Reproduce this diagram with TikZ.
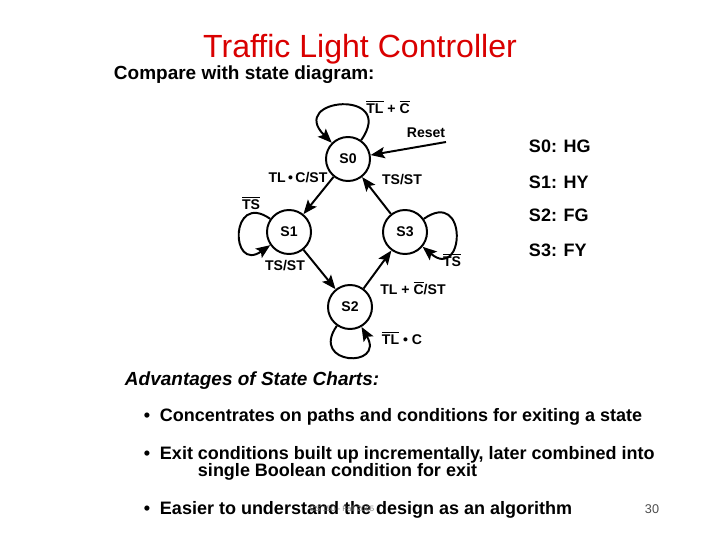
\documentclass[tikz,border=0pt]{standalone}
\usepackage{fontspec}
\setmainfont{Liberation Sans}
\usetikzlibrary{arrows.meta}
\newcommand{\ovl}[1]{$\overline{\mbox{#1}}$}

\begin{document}
\begin{tikzpicture}[x=0.025cm,y=0.025cm,->,>={Stealth[length=10pt,width=8pt,inset=2pt]},line width=1.4pt,
                    state node/.style={circle,draw,minimum size=1.1cm,inner sep=0pt,font=\bfseries\fontsize{10}{12}\selectfont},
                    cond/.style={font=\bfseries\fontsize{10}{12}\selectfont,inner sep=0pt},
                    big text/.style={font=\bfseries\fontsize{12.8}{15}\selectfont,anchor=west,inner sep=0pt}]
\useasboundingbox (0,0) rectangle (720,540);
%%%%%
\node[font=\fontsize{22.8}{26}\selectfont,text=red!85!black] (title) at (360,491) {Traffic Light Controller};
\node[big text,font=\bfseries\fontsize{13.5}{16}\selectfont] (intro) at (113,465) {Compare with state diagram:};
%%%%%
\node[state node] (s0) at (348,381) {S0};
\node[state node] (s1) at (289,308) {S1};
\node[state node] (s3) at (405,308) {S3};
\node[state node] (s2) at (350,233) {S2};
\coordinate (reset) at (446,398);
%%%%%%%
\path
  (s0) %%%%%%%%%%%%%
      edge [out=55,in=135,looseness=5.5] (s0)
      edge (s1)
  (s1) %%%%%%%%%%%%%
      edge [out=145,in=215,looseness=4.8] (s1)
      edge (s2)
  (s2) %%%%%%%%%%%%%
      edge [out=235,in=300,looseness=5] (s2)
      edge (s3)
  (s3) %%%%%%%%%%%%%
      edge [out=35,in=-40,looseness=5] (s3)
      edge (s0)
  (reset) edge (s0);
%%%%%%% conditions
\node[cond] (c00) at (388,433) {\ovl{TL} + \ovl{C}};
\node[cond] (crst) at (426,407) {Reset};
\node[cond] (c01) at (298,362) {TL\,•\,C/ST};
\node[cond] (c30) at (402,360) {TS/ST};
\node[cond] (c11) at (251,337) {\ovl{TS}};
\node[cond] (c12) at (285,274) {TS/ST};
\node[cond] (c33) at (452,280) {\ovl{TS}};
\node[cond] (c23) at (413,252) {TL + \ovl{C}/ST};
\node[cond] (c22) at (402,202) {\ovl{TL} • C};
%%%%%%% legend
\node[big text] (l0) at (528,394) {S0: HG};
\node[big text] (l1) at (528,358) {S1: HY};
\node[big text] (l2) at (528,325) {S2: FG};
\node[big text] (l3) at (528,290) {S3: FY};
%%%%%%% text
\node[big text,font=\bfseries\itshape\fontsize{13.5}{16}\selectfont] (adv) at (124,159) {Advantages of State Charts:};
\node[big text] (b1) at (143,123) {•};
\node[big text] (t1) at (159,123) {Concentrates on paths and conditions for exiting a state};
\node[big text] (b2) at (143,85) {•};
\node[big text] (t2) at (159,85) {Exit conditions built up incrementally, later combined into};
\node[big text] (t2b) at (197,68) {single Boolean condition for exit};
\node[big text] (b3) at (143,30) {•};
\node[big text] (t3) at (159,30) {Easier to understand the design as an algorithm};
\node[font=\fontsize{5.5}{6}\selectfont,text=gray] (foot) at (342,31) {CS 150 - Fall 2005};
\node[font=\fontsize{9}{10}\selectfont,text=black!70] (page) at (652,31) {30};
\end{tikzpicture}
\end{document}
